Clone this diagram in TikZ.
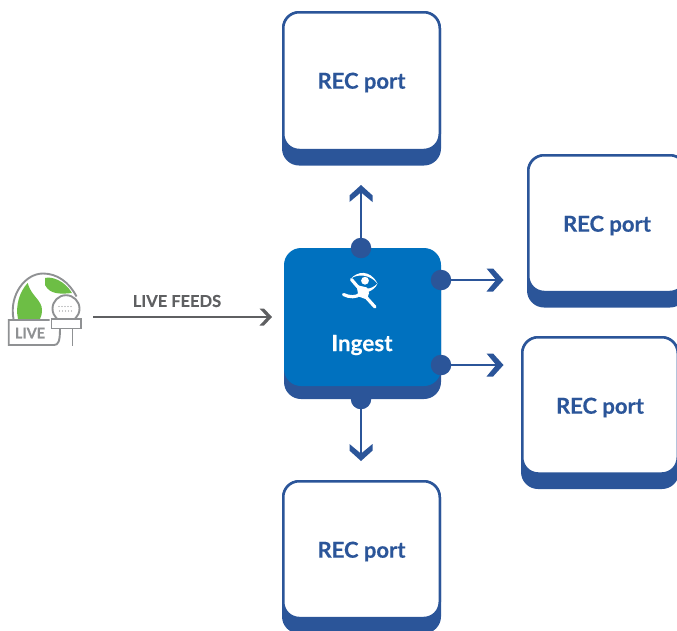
\documentclass[tikz,border=0pt]{standalone}
\usepackage{fontspec}
\setmainfont{Lato}[BoldFeatures={FakeBold=0.25}]
\usetikzlibrary{arrows.meta}
\definecolor{navy}{HTML}{2B5599}
\definecolor{ingestblue}{HTML}{0071BF}
\definecolor{feedgrey}{HTML}{5F6062}
\definecolor{icongrey}{HTML}{8F9193}
\definecolor{leaf}{HTML}{6DBE45}
\pgfdeclarearrow{
  name=Chev,
  setup code={\pgfarrowssettipend{0pt}\pgfarrowssetlineend{-6pt}\pgfarrowssetvisualbackend{-17pt}\pgfarrowssetbackend{-17pt}%
    \pgfarrowshullpoint{0pt}{0pt}\pgfarrowshullpoint{-17pt}{11.5pt}\pgfarrowshullpoint{-17pt}{-11.5pt}},
  drawing code={\pgfpathmoveto{\pgfqpoint{0pt}{0pt}}\pgfpathlineto{\pgfqpoint{-10.4pt}{11.5pt}}\pgfpathlineto{\pgfqpoint{-17pt}{11.5pt}}\pgfpathlineto{\pgfqpoint{-7.4pt}{0pt}}\pgfpathlineto{\pgfqpoint{-17pt}{-11.5pt}}\pgfpathlineto{\pgfqpoint{-10.4pt}{-11.5pt}}\pgfpathclose\pgfusepathqfill},
  defaults={}
}
\pgfdeclarearrow{
  name=FeedChev,
  setup code={\pgfarrowssettipend{0pt}\pgfarrowssetlineend{-4pt}\pgfarrowssetvisualbackend{-12.5pt}\pgfarrowssetbackend{-12.5pt}%
    \pgfarrowshullpoint{0pt}{0pt}\pgfarrowshullpoint{-12.5pt}{8.5pt}\pgfarrowshullpoint{-12.5pt}{-8.5pt}},
  drawing code={\pgfpathmoveto{\pgfqpoint{0pt}{0pt}}\pgfpathlineto{\pgfqpoint{-8pt}{8.5pt}}\pgfpathlineto{\pgfqpoint{-12.5pt}{8.5pt}}\pgfpathlineto{\pgfqpoint{-4.5pt}{0pt}}\pgfpathlineto{\pgfqpoint{-12.5pt}{-8.5pt}}\pgfpathlineto{\pgfqpoint{-8pt}{-8.5pt}}\pgfpathclose\pgfusepathqfill},
  defaults={}
}
\tikzset{
  portlabel/.style={font=\fontsize{22}{24}\selectfont\bfseries,text=navy},
  dot/.style={circle,fill=navy,minimum size=20.5pt,inner sep=0pt},
  flow/.style={draw=navy,line width=2.7pt,-{Chev}},
  feed/.style={draw=feedgrey,line width=2.7pt,-{FeedChev}},
  iconline/.style={draw=icongrey,line width=1.9pt},
  runner/.style={draw=white,line cap=round,line join=round},
}
\newcommand{\portbox}[5]{%
  \fill[navy,rounded corners=17pt] (#2,#3) rectangle (#4,#5+15.5);
  \filldraw[draw=navy,fill=white,line width=2.5pt,rounded corners=16pt] (#2+1.25,#3+1.25) rectangle (#4-1.25,#5);
  \node[portlabel] (#1) at ({(#2+#4)/2},{#3+71.5}) {REC port};
}
\begin{document}
\begin{tikzpicture}[x=1pt,y=-1pt]
\useasboundingbox (0,0) rectangle (677,630);
\clip (0,0) rectangle (677,630);
% ports
\portbox{top}{282}{11}{441}{150}
\portbox{right1}{527}{154}{687}{292}
\portbox{right2}{521}{336}{679}{473.5}
\portbox{bottom}{282}{480}{441}{618}
% ingest block
\node[dot] (dB) at (361,399) {};
\fill[navy,rounded corners=17pt] (284,270) rectangle (441,399);
\fill[ingestblue,rounded corners=17pt] (284,248) rectangle (441,386);
\node[font=\fontsize{22.5}{24}\selectfont\bfseries,text=white] (ingest) at (362,345) {Ingest};
% runner icon
\fill[white] (365,280.7) circle (3.9);
\fill[white] (351,278.5) .. controls (357,271.5) and (370,269) .. (377.5,283.5)
  .. controls (370,274.5) and (358,273.5) .. (351,278.5) -- cycle;
\fill[white] (377.5,283.5) .. controls (376,287.5) and (372,290.5) .. (368,292) -- (366,288.5)
  .. controls (370,289) and (374,287) .. (377.5,283.5) -- cycle;
\draw[runner,line width=3.2pt] (351.5,279.5) -- (357.5,286.5) -- (362,290);
\fill[white] (356.5,285) -- (367,287.5) -- (369,293) -- (367,299.5) -- (358.5,296.5) -- cycle;
\draw[runner,line width=3.2pt] (365,296) -- (375,307);
\draw[runner,line width=3.2pt] (360,294) .. controls (357,297.5) and (349,297.5) .. (343.5,294.5);
% dots
\node[dot] (dT) at (361,248) {};
\node[dot] (dR1) at (441,280) {};
\node[dot] (dR2) at (441,365) {};
% free ends
\coordinate (tipT) at (361,185);
\coordinate (tipR1) at (503.5,280);
\coordinate (tipR2) at (503.5,365);
\coordinate (tipB) at (361,461);
\draw[flow] (dT) -- (tipT);
\draw[flow] (dR1) -- (tipR1);
\draw[flow] (dR2) -- (tipR2);
\draw[flow] (dB) -- (tipB);
% live icon
\fill[leaf] (27.7,283) .. controls (31,296) and (42,300) .. (42,310)
  .. controls (42,314) and (41,317) .. (40,319) -- (18,319)
  .. controls (15,305) and (20,291) .. (27.7,283) -- cycle;
\fill[leaf] (45,278) .. controls (52,276) and (65,281) .. (72,293)
  .. controls (62,294) and (50,295) .. (45,285) -- cycle;
\draw[iconline] (13.5,319) .. controls (9,295) and (25,273.5) .. (43,273.5)
  .. controls (57,273.5) and (69,282) .. (76.5,296.5);
\draw[iconline,fill=white] (66,308.7) circle (13.5);
\foreach \px in {59,62,65,68,71}{\fill[icongrey] (\px,306.5) circle (.6);\fill[icongrey] (\px+0.5,311) circle (.6);}
\draw[iconline,fill=white] (51.5,319) rectangle (81,328.5);
\draw[iconline] (49.5,320) -- (8.7,320) -- (8.7,345) -- (54,345) .. controls (58,345) and (60,342) .. (60,329);
\draw[iconline] (72.5,329) -- (72.5,346);
\node[font=\fontsize{14.5}{16}\selectfont\bfseries,text=icongrey] (live) at (30,333) {LIVE};
% feed
\coordinate (feedstart) at (93,317);
\coordinate (feedend) at (272,317);
\draw[feed] (feedstart) -- (feedend);
\node[font=\fontsize{16.5}{18}\selectfont\bfseries,text=feedgrey] (feedlabel) at (177,301) {LIVE FEEDS};
\end{tikzpicture}
\end{document}
